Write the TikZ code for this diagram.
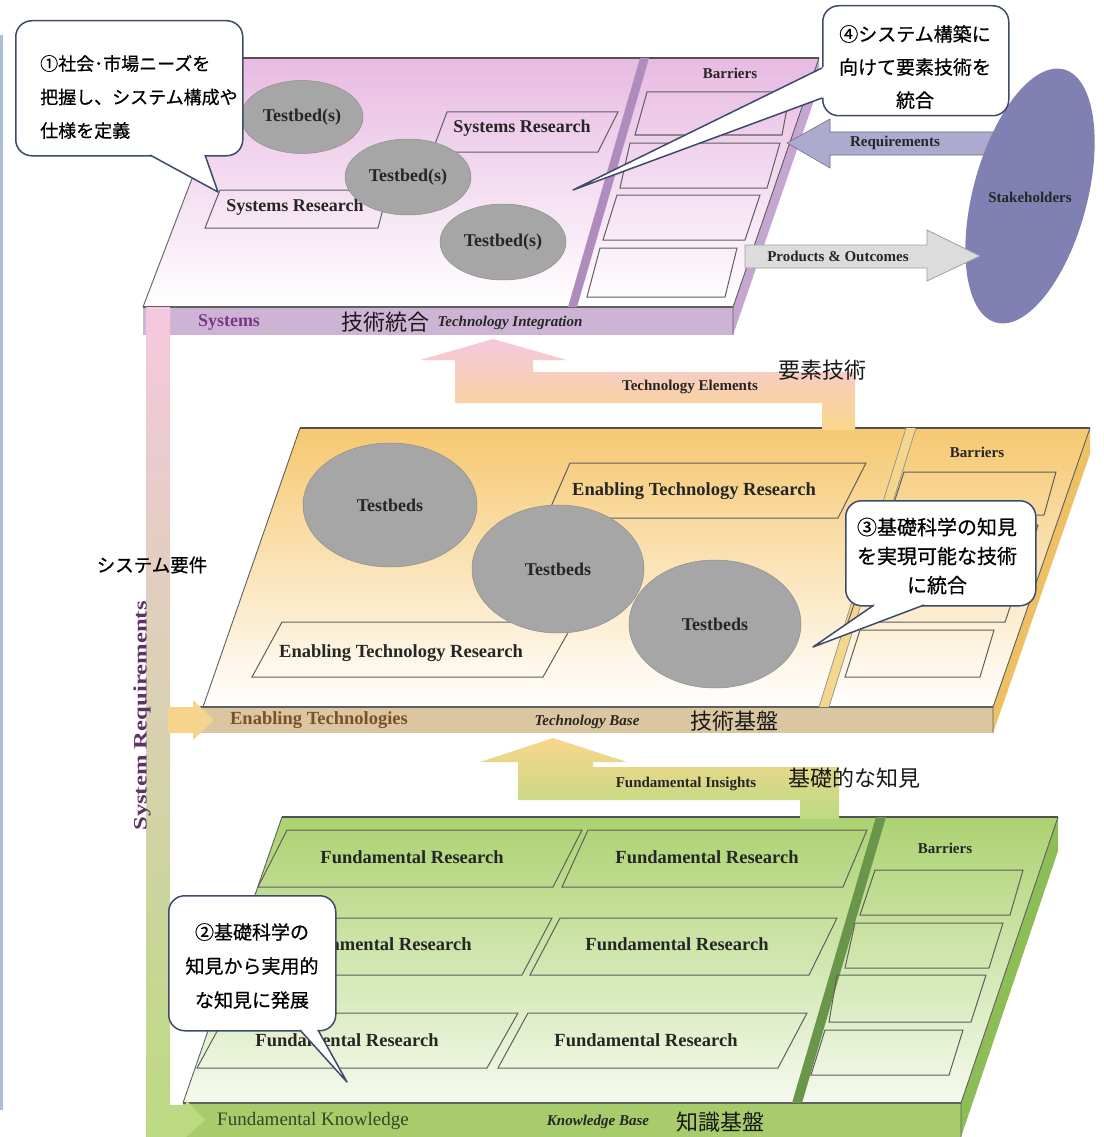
\documentclass[tikz,border=0pt]{standalone}
\usepackage{fontspec}
\usepackage{graphicx}
\setmainfont{Liberation Serif}
\newfontfamily\jpf{Noto Sans CJK JP}
\newfontfamily\jpb[FakeBold=0.6]{Noto Sans CJK JP}
\usetikzlibrary{shapes.geometric}
\newcommand\fsz[2]{\fontsize{#1}{#2}\selectfont}

\definecolor{pinkTop}{RGB}{232,186,226}
\definecolor{pinkBar}{RGB}{206,180,212}
\definecolor{pinkSide}{RGB}{196,166,208}
\definecolor{pinkDiv}{RGB}{176,140,190}
\definecolor{orTop}{RGB}{246,200,112}
\definecolor{orBar}{RGB}{218,198,160}
\definecolor{orSide}{RGB}{238,192,100}
\definecolor{orDiv}{RGB}{244,214,140}
\definecolor{grTop}{RGB}{172,210,112}
\definecolor{grBar}{RGB}{168,204,108}
\definecolor{grSide}{RGB}{140,190,85}
\definecolor{grDiv}{RGB}{105,150,75}
\definecolor{tbgray}{RGB}{166,166,166}
\definecolor{edgeC}{RGB}{95,95,95}
\definecolor{callC}{RGB}{60,75,105}
\definecolor{stakeC}{RGB}{128,128,178}
\definecolor{reqC}{RGB}{172,170,206}
\definecolor{prodC}{RGB}{220,220,220}
\definecolor{sysPurple}{RGB}{120,55,135}
\definecolor{enBrown}{RGB}{125,80,40}
\definecolor{fkGreen}{RGB}{55,70,35}
\definecolor{srPurple}{RGB}{95,50,105}
\definecolor{blueEdge}{RGB}{170,190,215}
\definecolor{arPink}{RGB}{245,200,222}
\definecolor{arOrange}{RGB}{250,214,140}
\definecolor{arGreen}{RGB}{188,218,130}

\tikzset{
  thinedge/.style={draw=edgeC, line width=0.9pt},
  topedge/.style={draw=edgeC!85!black, line width=2.2pt},
  rbox/.style={draw=edgeC, line width=1pt},
  en/.style={font=\bfseries\fsz{18.5}{20}, text=black!85, inner sep=0pt},
  ensm/.style={font=\bfseries\fsz{15}{17}, text=black!85, inner sep=0pt},
  enit/.style={font=\bfseries\itshape\fsz{15}{17}, text=black!85, inner sep=0pt},
  jpl/.style={font=\jpf\fsz{22}{24}, text=black!90, inner sep=0pt},
  testbed/.style={ellipse, fill=tbgray, draw=tbgray!85!black, line width=0.5pt, inner sep=0pt, font=\bfseries\fsz{18}{20}, text=black!85},
  callout/.style={draw=callC, line width=1.5pt, fill=white, rounded corners=16pt, inner sep=0pt, anchor=north west},
  tail/.style={draw=callC, line width=1.5pt, line join=round},
}

\begin{document}
\begin{tikzpicture}[x=1pt,y=-1pt]
\useasboundingbox (0,0) rectangle (1103,1137);
\fill[white] (0,0) rectangle (1103,1137);
\draw[blueEdge, line width=3pt] (1.5,35) -- (1.5,1110);

% ================= bottom layer (green) =================
\shade[top color=grTop, bottom color=grTop!12] (282,817) -- (1058,817) -- (961,1103) -- (183,1103) -- cycle;
\fill[grSide] (1058,817) -- (961,1103) -- (961,1137) -- (1058,851) -- cycle;
\fill[grBar] (183,1103) rectangle (961,1137);
\draw[thinedge] (183,1103) -- (282,817);
\draw[thinedge] (1058,817) -- (961,1103) -- (961,1137);
\draw[edgeC, line width=1.4pt] (183,1103) -- (961,1103);
\draw[topedge] (282,817) -- (1058,817);
\fill[grDiv] (876,817) -- (886,817) -- (802,1103) -- (792,1103) -- cycle;
% research boxes
\draw[rbox] (287,830) -- (582,830) -- (553,887) -- (258,887) -- cycle;
\draw[rbox] (588,830) -- (867,830) -- (843,887) -- (562,887) -- cycle;
\draw[rbox] (257,918) -- (552,918) -- (522,975) -- (228,975) -- cycle;
\draw[rbox] (560,918) -- (837,918) -- (809,975) -- (530,975) -- cycle;
\draw[rbox] (227,1013) -- (518,1013) -- (487,1068) -- (197,1068) -- cycle;
\draw[rbox] (528,1013) -- (807,1013) -- (778,1068) -- (498,1068) -- cycle;
\node[en] (fr1) at (412,857) {Fundamental Research};
\node[en] (fr2) at (707,857) {Fundamental Research};
\node[en] (fr3) at (380,944) {Fundamental Research};
\node[en] (fr4) at (677,944) {Fundamental Research};
\node[en] (fr5) at (347,1040) {Fundamental Research};
\node[en] (fr6) at (646,1040) {Fundamental Research};
% barriers
\node[ensm] (bar3) at (945,848) {Barriers};
\draw[rbox] (875,870) -- (1023,870) -- (1010,915) -- (860,915) -- cycle;
\draw[rbox] (855,923) -- (1003,923) -- (989,968) -- (845,968) -- cycle;
\draw[rbox] (837,975) -- (986,975) -- (971,1022) -- (829,1022) -- cycle;
\draw[rbox] (825,1030) -- (963,1030) -- (949,1075) -- (811,1075) -- cycle;
\node[font=\fsz{19}{21}, text=fkGreen, inner sep=0pt] (efk) at (313,1121) {Fundamental Knowledge};
\node[enit] (ekb) at (598,1122) {Knowledge Base};
\node[jpl] (jkb) at (720,1122) {知識基盤};

% ================= Fundamental Insights arrow =================
\shade[top color=arOrange, middle color=arGreen!55!arOrange, bottom color=arGreen]
  (553,738) -- (627,762) -- (593,762) -- (593,767) -- (839,767) -- (839,819) -- (800,819)
  -- (800,800) -- (518,800) -- (518,762) -- (480,762) -- cycle;
\node[ensm] (efi) at (686,784) {Fundamental Insights};
\node[jpl] (jfi) at (854,778) {基礎的な知見};

% ================= middle layer (orange) =================
\shade[top color=orTop, bottom color=white] (300,428) -- (1090,428) -- (993,707) -- (203,707) -- cycle;
\fill[orSide] (1090,428) -- (993,707) -- (993,733) -- (1090,454) -- cycle;
\fill[orBar] (200,707) rectangle (993,733);
\draw[thinedge] (203,707) -- (300,428);
\draw[thinedge] (1090,428) -- (993,707) -- (993,733);
\draw[edgeC, line width=1.4pt] (200,707) -- (993,707);
\draw[topedge] (300,428) -- (1090,428);
\fill[orDiv] (906,428) -- (916,428) -- (829,707) -- (819,707) -- cycle;
\draw[edgeC!70, line width=0.7pt] (906,428) -- (819,707) (916,428) -- (829,707);
% research boxes
\draw[rbox] (570,463) -- (866,463) -- (838,518) -- (546,518) -- cycle;
\draw[rbox] (282,622) -- (574,622) -- (543,677) -- (252,677) -- cycle;
\node[en] (etr1) at (694,491) {Enabling Technology Research};
\node[en] (etr2) at (401,653) {Enabling Technology Research};
\node[testbed, minimum width=174, minimum height=124] (tb1) at (390,505) {Testbeds};
\node[testbed, minimum width=172, minimum height=128] (tb2) at (558,569) {Testbeds};
\node[testbed, minimum width=172, minimum height=128] (tb3) at (715,624) {Testbeds};
% barriers
\node[ensm] (bar2) at (977,452) {Barriers};
\draw[rbox] (904,472) -- (1056,472) -- (1044,515) -- (890,515) -- cycle;
\draw[rbox] (880,525) -- (1038,525) -- (1024,569) -- (865,569) -- cycle;
\draw[rbox] (863,578) -- (1020,578) -- (1005,622) -- (848,622) -- cycle;
\draw[rbox] (860,630) -- (994,630) -- (980,677) -- (845,677) -- cycle;
\node[font=\bfseries\fsz{18.5}{20}, text=enBrown, inner sep=0pt] (eet) at (319,720) {Enabling Technologies};
\node[enit] (etb) at (587,722) {Technology Base};
\node[jpl] (jtb) at (734,721) {技術基盤};

% ================= Technology Elements arrow =================
\shade[top color=arPink, middle color=arOrange, bottom color=arOrange]
  (493,339) -- (567,360) -- (533,360) -- (533,372) -- (855,372) -- (855,430) -- (822,430)
  -- (822,403) -- (455,403) -- (455,360) -- (420,360) -- cycle;
\node[ensm] (ete) at (690,387) {Technology Elements};
\node[jpl] (jte) at (822,370) {要素技術};

% ================= top layer (pink) =================
\shade[top color=pinkTop, bottom color=white] (238,58) -- (819,58) -- (733,307) -- (143,307) -- cycle;
\fill[pinkSide] (819,58) -- (733,307) -- (733,335) -- (819,86) -- cycle;
\fill[pinkBar] (143,307) rectangle (733,335);
\draw[thinedge] (143,307) -- (238,58);
\draw[thinedge] (819,58) -- (733,307) -- (733,335);
\draw[edgeC, line width=1.4pt] (143,307) -- (733,307);
\draw[topedge] (238,58) -- (819,58);
\fill[pinkDiv] (640,58) -- (649,58) -- (577,307) -- (568,307) -- cycle;
\node[ensm] (bar1) at (730,73) {Barriers};
\draw[rbox] (647,92) -- (790,92) -- (782,135) -- (635,135) -- cycle;
\draw[rbox] (630,143) -- (780,143) -- (767,188) -- (620,188) -- cycle;
\draw[rbox] (617,195) -- (760,195) -- (745,240) -- (603,240) -- cycle;
\draw[rbox] (600,248) -- (737,248) -- (725,297) -- (587,297) -- cycle;
\draw[rbox] (220,190) -- (388,190) -- (378,228) -- (205,228) -- cycle;
\draw[rbox] (447,112) -- (618,112) -- (598,152) -- (432,152) -- cycle;
\node[en, font=\bfseries\fsz{18}{20}] (sr1) at (295,207) {Systems Research};
\node[en, font=\bfseries\fsz{18}{20}] (sr2) at (522,128) {Systems Research};
\node[testbed, minimum width=122, minimum height=73] (ts1) at (302,117) {Testbed(s)};
\node[testbed, minimum width=126, minimum height=76] (ts2) at (408,177) {Testbed(s)};
\node[testbed, minimum width=126, minimum height=76] (ts3) at (503,242) {Testbed(s)};
\node[font=\bfseries\fsz{18}{20}, text=sysPurple, inner sep=0pt] (esys) at (229,322) {Systems};
\node[jpl] (jtg) at (385,322) {技術統合};
\node[enit] (eti) at (510,323) {Technology Integration};

% ================= stakeholders =================
\fill[reqC, draw=reqC!65!black, line width=0.6pt]
  (787,143) -- (830,119) -- (830,132) -- (1005,132) -- (1005,155) -- (830,155) -- (830,168) -- cycle;
\node[ellipse, fill=stakeC, minimum width=114, minimum height=262, inner sep=0pt, rotate=-15] (stake) at (1030,196) {};
\node[ensm] (estake) at (1030,197) {Stakeholders};
\node[ensm] (ereq) at (895,143) {Requirements};
\fill[prodC, draw=gray!75, line width=0.8pt]
  (745,245) -- (927,245) -- (927,230) -- (980,256) -- (927,281) -- (927,268) -- (745,268) -- cycle;
\node[ensm] (eprod) at (838,256) {Products \& Outcomes};

% ================= System Requirements column =================
\shade[top color=arPink, middle color=arOrange, bottom color=arGreen] (146,307) rectangle (170,1137);
\fill[arOrange!90!orBar] (168,707) -- (193,707) -- (193,700) -- (214,720) -- (193,740) -- (193,733) -- (168,733) -- cycle;
\fill[arGreen] (168,1105) -- (186,1105) -- (186,1100) -- (205,1120) -- (186,1137) -- (168,1137) -- cycle;
\node[rotate=90, font=\bfseries\fsz{19}{21}, text=srPurple, inner sep=0pt] (esr) at (142,716) {\scalebox{1.3}[1]{System Requirements}};
\node[font=\jpb\fsz{18.5}{20}, inner sep=0pt] (jsr) at (152,565) {システム要件};

% ================= callouts =================
% 1
\node[callout, minimum width=227, minimum height=135] (c1) at (15,20) {};
\fill[white] (144.5,152) -- (218,192) -- (204,152) -- cycle;
\draw[tail] (150,155) -- (218,192) -- (205,155);
\node[anchor=west, align=left, font=\jpb\fsz{18}{33.5}, inner sep=0pt] (t1) at (40,97) {①社会･市場ニーズを\\把握し、システム構成や\\仕様を定義};
% 4
\node[callout, minimum width=186, minimum height=110] (c4) at (822,5) {};
\fill[white] (825,66.5) -- (573,190) -- (825,96.9) -- cycle;
\draw[tail] (822,68) -- (573,190) -- (822,98);
\node[align=center, font=\jpb\fsz{19}{33}, inner sep=0pt] (t4) at (915,67) {④システム構築に\\向けて要素技術を\\統合};
% 3
\node[callout, minimum width=190, minimum height=105] (c3) at (845,500) {};
\fill[white] (878.4,602) -- (813,647) -- (931.9,602) -- cycle;
\draw[tail] (874,605) -- (813,647) -- (924,605);
\node[align=center, font=\jpb\fsz{20}{29}, inner sep=0pt] (t3) at (937,556) {③基礎科学の知見\\を実現可能な技術\\に統合};
% 2
\node[callout, minimum width=167, minimum height=135] (c2) at (168,895) {};
\fill[white] (297.6,1027) -- (347,1082) -- (315.3,1027) -- cycle;
\draw[tail] (300,1030) -- (347,1082) -- (318,1030);
\node[align=center, font=\jpb\fsz{19}{34}, inner sep=0pt] (t2) at (252,966) {②基礎科学の\\知見から実用的\\な知見に発展};
\end{tikzpicture}
\end{document}
